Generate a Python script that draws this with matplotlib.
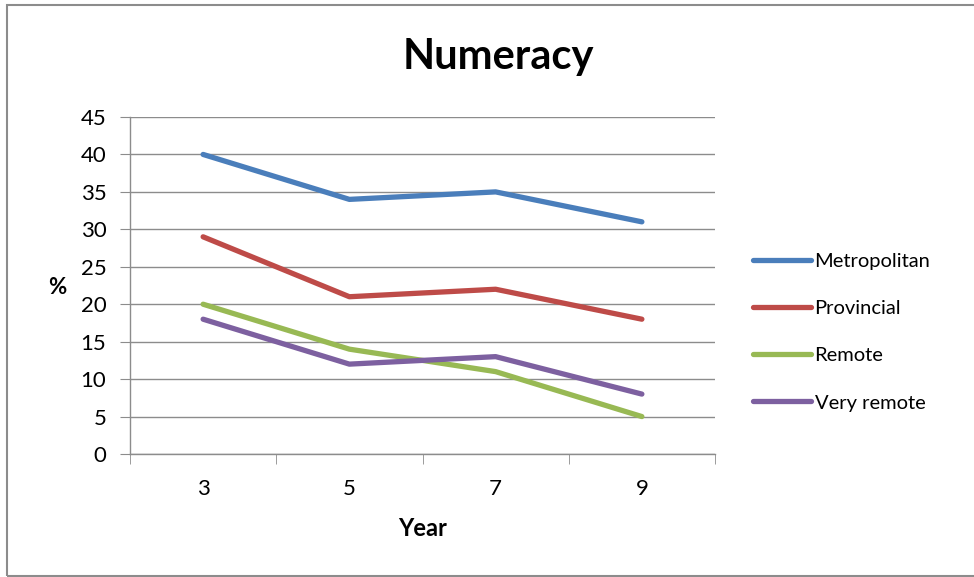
import matplotlib
matplotlib.use("Agg")
import matplotlib.pyplot as plt
from matplotlib.patches import Rectangle

years = ["3", "5", "7", "9"]
metropolitan = [40, 34, 35, 31]
provincial = [29, 21, 22, 18]
remote = [20, 14, 11, 5]
very_remote = [18, 12, 13, 8]
series_names = ["Metropolitan", "Provincial", "Remote", "Very remote"]
colors = ["#4A7EBB", "#BE4B48", "#98B954", "#7D60A0"]
yticks = [0, 5, 10, 15, 20, 25, 30, 35, 40, 45]

plt.rcParams['font.family'] = ['Lato', 'DejaVu Sans']

W, H = 974, 577
fig = plt.figure(figsize=(W/100, H/100), dpi=100)
fig.patch.set_facecolor("white")
# outer frame
fig.add_artist(Rectangle((7/W, 1 - 576/H), 1.2, (576-5)/H, transform=fig.transFigure,
                         fill=False, edgecolor="#8c8c8c", linewidth=1.5))

ax = fig.add_axes([130/W, 1 - 454/H, (715-130)/W, (454-117)/H])
x = list(range(len(years)))
for vals, name, c in zip([metropolitan, provincial, remote, very_remote], series_names, colors):
    ax.plot(x, vals, color=c, linewidth=3.8, label=name, solid_capstyle="round", solid_joinstyle="round")

ax.set_xlim(-0.5, len(years) - 0.5)
ax.set_ylim(0, 45)
ax.set_yticks(yticks)
ax.set_yticklabels([str(v) for v in yticks], fontsize=16)
ax.set_xticks(x)
ax.set_xticklabels(years, fontsize=16)
ax.set_xticks([i - 0.5 for i in range(len(years) + 1)], minor=True)
ax.tick_params(axis="x", which="major", length=0, pad=18)
ax.tick_params(axis="x", which="minor", length=7, color="#8c8c8c", direction="out")
ax.tick_params(axis="y", length=7, color="#8c8c8c", direction="out", pad=10)
ax.yaxis.grid(True, color="#8c8c8c", linewidth=1)
ax.set_axisbelow(True)
for s in ["top", "right"]:
    ax.spines[s].set_visible(False)
for s in ["left", "bottom"]:
    ax.spines[s].set_color("#8c8c8c")
    ax.spines[s].set_linewidth(1)

fig.text(498/W, 1 - 57/H, "Numeracy", ha="center", va="center", fontsize=30, fontweight="bold")
fig.text(57/W, 1 - 288/H, "%", ha="center", va="center", fontsize=16, fontweight="bold")
fig.text(423/W, 1 - 528/H, "Year", ha="center", va="center", fontsize=17, fontweight="bold")

leg = ax.legend(loc="center left", bbox_to_anchor=(735/W, 1 - 332/H), bbox_transform=fig.transFigure,
                frameon=False, fontsize=14.5, handlelength=2.85, handletextpad=0.2, labelspacing=1.5)

fig.savefig("out.png", dpi=100)
